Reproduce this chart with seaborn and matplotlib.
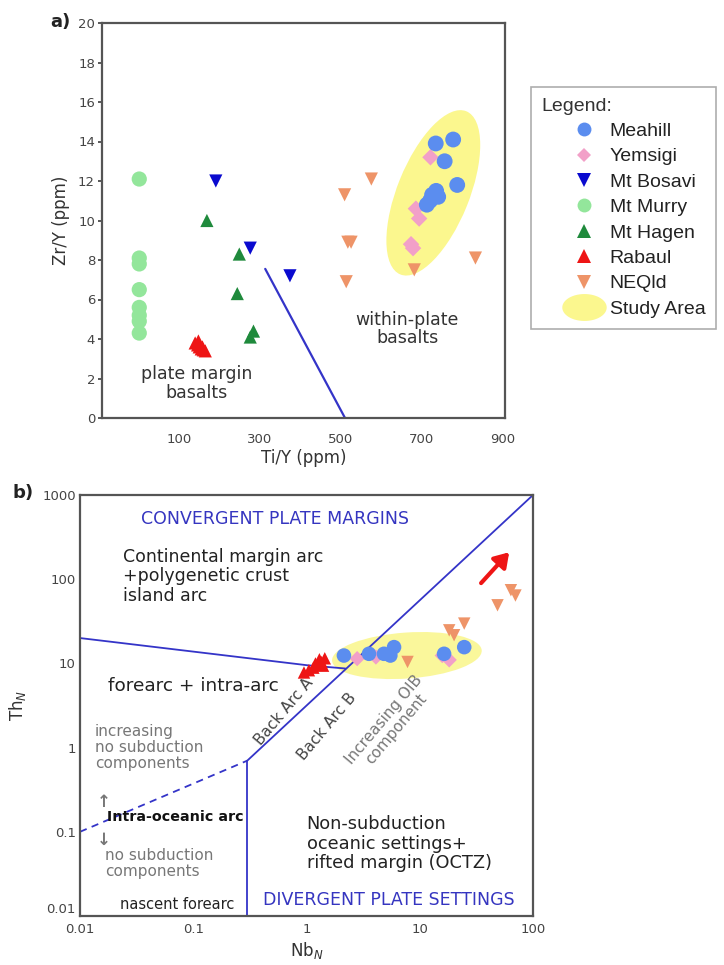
import numpy as np
import pandas as pd
import matplotlib
matplotlib.use("Agg")
import matplotlib.pyplot as plt
import matplotlib.transforms as mtransforms
from matplotlib.patches import Ellipse
from matplotlib.lines import Line2D
from matplotlib.path import Path
import seaborn as sns

sns.set_theme(style="white")
plt.rcParams['font.family'] = ['DejaVu Sans']

# ---------------- data: panel a (Ti/Y vs Zr/Y) ----------------
meahill_a_x = [734, 777, 756, 787, 725, 735, 720, 712, 740]
meahill_a_y = [13.9, 14.1, 13.0, 11.8, 11.3, 11.5, 11.0, 10.8, 11.2]
yemsigi_a_x = [721, 685, 693, 673, 678]
yemsigi_a_y = [13.2, 10.6, 10.1, 8.8, 8.6]
bosavi_a_x = [191, 276, 374]
bosavi_a_y = [12.0, 8.6, 7.2]
murry_a_x = [2, 2, 2, 2, 2, 2, 2, 2]
murry_a_y = [12.1, 8.1, 7.8, 6.5, 5.6, 5.2, 4.9, 4.3]
hagen_a_x = [169, 249, 244, 284, 276]
hagen_a_y = [10.0, 8.3, 6.3, 4.4, 4.1]
rabaul_a_x = [140, 146, 150, 155, 160, 165, 148, 158]
rabaul_a_y = [3.8, 3.7, 3.6, 3.5, 3.45, 3.4, 3.9, 3.6]
neqld_a_x = [509, 575, 517, 525, 513, 681, 832]
neqld_a_y = [11.3, 12.1, 8.9, 8.9, 6.9, 7.5, 8.1]
boundary_a_x = [313, 510]
boundary_a_y = [7.55, 0.0]
study_a_center = (728, 11.4)

# ---------------- data: panel b (Nb_N vs Th_N) ----------------
meahill_b_x = [2.14, 3.56, 4.83, 5.93, 5.5, 16.4, 24.7]
meahill_b_y = [12.4, 13.0, 13.0, 15.6, 12.4, 13.0, 15.6]
yemsigi_b_x = [2.8, 4.1, 18.2, 15.8]
yemsigi_b_y = [11.4, 11.9, 11.0, 12.4]
neqld_b_x = [7.8, 18.2, 20.1, 24.7, 48.6, 63.8, 70.0]
neqld_b_y = [10.4, 24.7, 21.6, 29.7, 49.0, 74.0, 64.0]
rabaul_b_x = [0.95, 1.05, 1.15, 1.25, 1.35, 1.45, 1.3, 1.2, 1.4]
rabaul_b_y = [7.8, 8.3, 8.9, 9.6, 10.4, 11.5, 11.2, 10.0, 9.4]
forearc_line_x = [0.01, 1.02, 2.2]
forearc_line_y = [20, 9.5, 8.7]
diag_line_x = [0.3, 100]
diag_line_y = [0.7, 1000]
dashed_line_x = [0.01, 0.3]
dashed_line_y = [0.1, 0.7]
vert_line_x = [0.3, 0.3]
vert_line_y = [0.01, 0.7]
arrow_start = (33.5, 85)
arrow_end = (64, 221)
study_b_center = (7.7, 12.4)

xticks_a = [100, 300, 500, 700, 900]
yticks_a = list(range(0, 21, 2))
ticks_b_x = [0.01, 0.1, 1, 10, 100]
ticks_b_y = [0.01, 0.1, 1, 10, 100, 1000]
labels_b_x = ["0.01", "0.1", "1", "10", "100"]
labels_b_y = ["0.01", "0.1", "1", "10", "100", "1000"]

groups = ["Meahill", "Yemsigi", "Mt Bosavi", "Mt Murry", "Mt Hagen", "Rabaul", "NEQld"]
colors = {"Meahill": "#5B8DEF", "Yemsigi": "#F2A0C8", "Mt Bosavi": "#0A0ACF",
          "Mt Murry": "#93E69B", "Mt Hagen": "#1F8A3C", "Rabaul": "#EE1515",
          "NEQld": "#EE9468"}
markers = {"Meahill": "o", "Yemsigi": "D", "Mt Bosavi": "v", "Mt Murry": "o",
           "Mt Hagen": "^", "Rabaul": "^", "NEQld": "v"}
sizes_a = {"Meahill": 130, "Yemsigi": 70, "Mt Bosavi": 90, "Mt Murry": 120,
           "Mt Hagen": 90, "Rabaul": 90, "NEQld": 90}

data_a = {"Meahill": (meahill_a_x, meahill_a_y), "Yemsigi": (yemsigi_a_x, yemsigi_a_y),
          "Mt Bosavi": (bosavi_a_x, bosavi_a_y), "Mt Murry": (murry_a_x, murry_a_y),
          "Mt Hagen": (hagen_a_x, hagen_a_y), "Rabaul": (rabaul_a_x, rabaul_a_y),
          "NEQld": (neqld_a_x, neqld_a_y)}
data_b = {"Meahill": (meahill_b_x, meahill_b_y), "Yemsigi": (yemsigi_b_x, yemsigi_b_y),
          "NEQld": (neqld_b_x, neqld_b_y), "Rabaul": (rabaul_b_x, rabaul_b_y)}

W, H = 724, 965
fig = plt.figure(figsize=(W / 100, H / 100), dpi=100)
line_blue = "#3434C8"
spine_col = "#555555"
tick_col = "#444444"

def px_axes(l, r, t, b):
    return [l / W, 1 - b / H, (r - l) / W, (b - t) / H]

# ================= panel a =================
ax = fig.add_axes(px_axes(102, 505, 23, 418))
ax.set_xlim(-90, 905)
ax.set_ylim(0, 20)
trans_a = fig.dpi_scale_trans + mtransforms.ScaledTranslation(*study_a_center, ax.transData)
ax.add_patch(Ellipse((0, 0), 1.76, 0.72, angle=68, transform=trans_a,
                     facecolor="#FBF78E", edgecolor="none", zorder=1))
ax.plot(boundary_a_x, boundary_a_y, color=line_blue, lw=1.6, zorder=2)
order_a = ["Mt Murry", "Mt Hagen", "Mt Bosavi", "Rabaul", "NEQld", "Yemsigi", "Meahill"]
for g in order_a:
    xs, ys = data_a[g]
    sns.scatterplot(x=xs, y=ys, ax=ax, marker=markers[g], color=colors[g],
                    s=sizes_a[g], linewidth=0, edgecolor="none", zorder=3, legend=False)
ax.set_xticks(xticks_a)
ax.set_xticklabels([str(v) for v in xticks_a])
ax.set_yticks(yticks_a)
ax.tick_params(axis="both", labelsize=9.5, colors=tick_col, length=3, direction="out",
               left=True, bottom=False, pad=2)
ax.tick_params(axis="x", pad=8)
for s in ax.spines.values():
    s.set_color(spine_col)
    s.set_linewidth(1.6)
ax.set_ylabel("Zr/Y (ppm)", fontsize=12, color="#333333", labelpad=6)
ax.set_xlabel("Ti/Y (ppm)", fontsize=12, color="#333333", labelpad=2)
ax.text(144, 1.75, "plate margin\nbasalts", ha="center", va="center", fontsize=12.5,
        color="#333333", linespacing=1.05)
ax.text(664, 4.5, "within-plate\nbasalts", ha="center", va="center", fontsize=12.5,
        color="#333333", linespacing=1.05)
fig.text(50 / W, 1 - 22 / H, "a)", fontsize=13, fontweight="bold", ha="left", va="center",
         color="#222222")

# legend
handles = [Line2D([], [], linestyle="none", marker=markers[g], color=colors[g],
                  markersize=(10 if g != "Yemsigi" else 7.5), markeredgewidth=0) for g in groups]
t = np.linspace(0, 2 * np.pi, 60)
ell_path = Path(np.column_stack([1.65 * np.cos(t), np.sin(t)]))
handles.append(Line2D([], [], linestyle="none", marker=ell_path, color="#FBF78E",
                      markersize=32, markeredgewidth=0))
leg = fig.legend(handles, groups + ["Study Area"], loc="upper left",
                 bbox_to_anchor=(531 / W, 1 - 87 / H), frameon=True, title="Legend:",
                 prop={"family": "Liberation Sans", "size": 14},
                 title_fontproperties={"family": "Liberation Sans", "size": 14},
                 handletextpad=-0.9, labelspacing=0.4, borderpad=0.55,
                 handlelength=4.4, fancybox=False, borderaxespad=0)
leg.get_frame().set_edgecolor("#999999")
leg.get_frame().set_linewidth(1.2)
leg._legend_box.align = "left"
for txt in leg.get_texts():
    txt.set_color("#222222")
leg.get_title().set_color("#333333")

# ================= panel b =================
bx = fig.add_axes(px_axes(80, 533, 495, 916))
bx.set_xscale("log")
bx.set_yscale("log")
bx.set_xlim(0.01, 100)
bx.set_ylim(0.01, 1000)
trans_b = fig.dpi_scale_trans + mtransforms.ScaledTranslation(*study_b_center, bx.transData)
bx.add_patch(Ellipse((0, 0), 1.5, 0.46, angle=4, transform=trans_b,
                     facecolor="#FAF68A", edgecolor="none", alpha=0.85, zorder=1))
bx.plot(forearc_line_x, forearc_line_y, color=line_blue, lw=1.3, zorder=2)
bx.plot(diag_line_x, diag_line_y, color=line_blue, lw=1.3, zorder=2)
bx.plot(vert_line_x, vert_line_y, color=line_blue, lw=1.3, zorder=2)
bx.plot(dashed_line_x, dashed_line_y, color=line_blue, lw=1.3, ls=(0, (4, 3)), zorder=2)
sizes_b = {"Meahill": 110, "Yemsigi": 60, "NEQld": 80, "Rabaul": 80}
for g in ["NEQld", "Rabaul", "Yemsigi", "Meahill"]:
    xs, ys = data_b[g]
    sns.scatterplot(x=xs, y=ys, ax=bx, marker=markers[g], color=colors[g],
                    s=sizes_b[g], linewidth=0, edgecolor="none", zorder=3, legend=False)
bx.annotate("", xy=arrow_end, xytext=arrow_start,
            arrowprops=dict(arrowstyle="-|>,head_width=0.45,head_length=0.7",
                            color="#EE1515", lw=3.0), zorder=4)
bx.set_xticks(ticks_b_x)
bx.set_xticklabels(labels_b_x)
bx.set_yticks(ticks_b_y)
bx.set_yticklabels(labels_b_y)
bx.minorticks_off()
bx.tick_params(axis="both", labelsize=9.5, colors=tick_col, length=0, pad=3)
bx.tick_params(axis="x", pad=5)
ylabs = bx.get_yticklabels()
ylabs[0].set_verticalalignment("bottom")
for s in bx.spines.values():
    s.set_color(spine_col)
    s.set_linewidth(1.6)
bx.set_xlabel("Nb$_N$", fontsize=12, color="#333333", labelpad=3)
bx.set_ylabel("Th$_N$", fontsize=12, color="#333333", labelpad=10)
fig.text(12 / W, 1 - 493 / H, "b)", fontsize=13, fontweight="bold", ha="left", va="center",
         color="#222222")

T = bx.transAxes
bx.text(0.43, 0.943, "CONVERGENT PLATE MARGINS", transform=T, ha="center", va="center",
        fontsize=12.5, color="#3535C0")
bx.text(0.095, 0.875, "Continental margin arc\n+polygenetic crust\nisland arc", transform=T,
        ha="left", va="top", fontsize=12.5, color="#222222", linespacing=1.12)
bx.text(0.062, 0.546, "forearc + intra-arc", transform=T, ha="left", va="center",
        fontsize=13.3, color="#222222")
bx.text(0.45, 0.485, "Back Arc A", transform=T, ha="center", va="center",
        fontsize=11, color="#444444", rotation=50)
bx.text(0.545, 0.45, "Back Arc B", transform=T, ha="center", va="center",
        fontsize=11, color="#444444", rotation=50)
bx.text(0.685, 0.455, "Increasing OIB\ncomponent", transform=T, ha="center", va="center",
        fontsize=11, color="#777777", rotation=50, linespacing=1.05)
bx.text(0.033, 0.455, "increasing\nno subduction\ncomponents", transform=T, ha="left",
        va="top", fontsize=11, color="#777777", linespacing=1.08)
bx.text(0.052, 0.27, "\u2191", transform=T, ha="center", va="center", fontsize=12,
        color="#777777", fontweight="bold")
bx.text(0.06, 0.235, "Intra-oceanic arc", transform=T, ha="left", va="center",
        fontsize=10.3, color="#111111", fontweight="bold")
bx.text(0.052, 0.18, "\u2193", transform=T, ha="center", va="center", fontsize=12,
        color="#777777", fontweight="bold")
bx.text(0.055, 0.162, "no subduction\ncomponents", transform=T, ha="left", va="top",
        fontsize=11, color="#777777", linespacing=1.08)
bx.text(0.214, 0.027, "nascent forearc", transform=T, ha="center", va="center",
        fontsize=10.5, color="#222222")
bx.text(0.5, 0.24, "Non-subduction\noceanic settings+\nrifted margin (OCTZ)", transform=T,
        ha="left", va="top", fontsize=12.8, color="#222222", linespacing=1.12)
bx.text(0.682, 0.038, "DIVERGENT PLATE SETTINGS", transform=T, ha="center", va="center",
        fontsize=12.5, color="#3535C0")

fig.savefig("out.png", dpi=100, facecolor="white")
